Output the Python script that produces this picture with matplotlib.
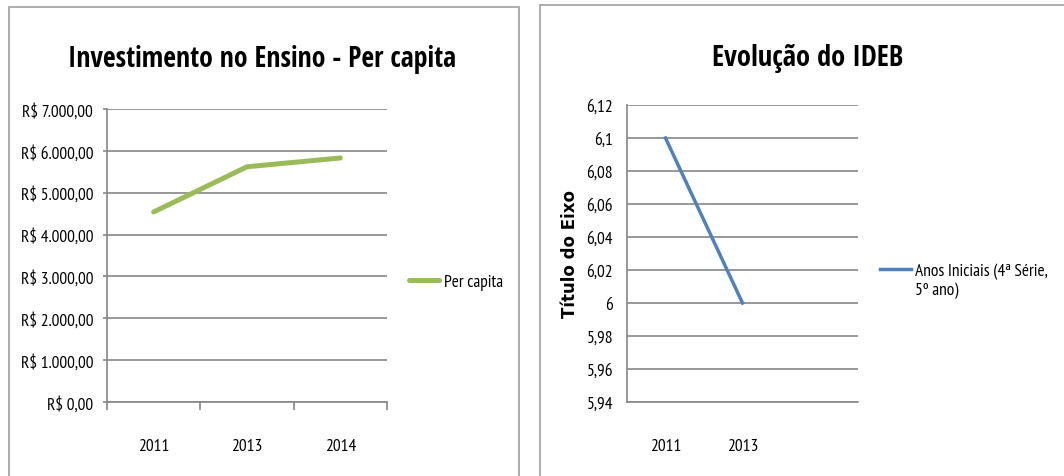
import matplotlib
matplotlib.use('Agg')
import matplotlib.pyplot as plt
from matplotlib.patches import Rectangle

plt.rcParams['font.family'] = ['PT Sans Narrow', 'Roboto Condensed', 'DejaVu Sans']
TITLE_FONT = ['Open Sans Condensed', 'Roboto Condensed', 'DejaVu Sans']

# dados
anos_invest = ['2011', '2013', '2014']
per_capita = [4540, 5620, 5830]
invest_ticks = [0, 1000, 2000, 3000, 4000, 5000, 6000, 7000]

anos_ideb = ['2011', '2013', '']
ideb_iniciais = [6.1, 6.0]
ideb_ticks = [5.94, 5.96, 5.98, 6.0, 6.02, 6.04, 6.06, 6.08, 6.1, 6.12]

W, H = 1064, 477
GRID = '#868686'
BORDER = '#a6a6a6'


def fx(px):
    return px / W


def fy(py):
    return 1 - py / H


def brl(v):
    s = f'{v:,.2f}'.replace(',', 'X').replace('.', ',').replace('X', '.')
    return 'R$ ' + s


def ptbr(v):
    s = f'{v:.2f}'.rstrip('0').rstrip('.')
    return s.replace('.', ',')


def style_axis(ax):
    for side in ['top', 'right']:
        ax.spines[side].set_visible(False)
    for side in ['left', 'bottom']:
        ax.spines[side].set_color(GRID)
        ax.spines[side].set_linewidth(1.2)
    ax.yaxis.grid(True, color=GRID, linewidth=1.2)
    ax.set_axisbelow(True)
    ax.tick_params(axis='y', length=3, width=1.2, color=GRID, labelsize=12.5, pad=7)


fig = plt.figure(figsize=(W / 100, H / 100), dpi=100)

# molduras dos dois graficos
fig.patches.append(Rectangle((fx(9), fy(480)), fx(510), 472 / H, transform=fig.transFigure,
                             fill=False, edgecolor=BORDER, linewidth=1.3))
fig.patches.append(Rectangle((fx(540), fy(480)), fx(540), 474 / H, transform=fig.transFigure,
                             fill=False, edgecolor=BORDER, linewidth=1.3))

# grafico 1 - investimento
ax1 = fig.add_axes([fx(107), fy(403), fx(387 - 107), (403 - 110) / H])
x1 = range(len(anos_invest))
ax1.plot(x1, per_capita, color='#9BBB59', linewidth=3.6, solid_capstyle='round', label='Per capita')
ax1.set_xlim(-0.5, len(anos_invest) - 0.5)
ax1.set_ylim(0, 7000)
ax1.set_yticks(invest_ticks)
ax1.set_yticklabels([brl(v) for v in invest_ticks])
ax1.set_xticks([i - 0.5 for i in range(len(anos_invest) + 1)])
ax1.set_xticklabels([])
ax1.set_xticks(list(x1), minor=True)
ax1.set_xticklabels(anos_invest, minor=True)
ax1.tick_params(axis='x', which='major', length=6, width=1.2, color=GRID, direction='out')
ax1.tick_params(axis='x', which='minor', length=0, labelsize=12.5, pad=26)
style_axis(ax1)
leg1 = ax1.legend(loc='center left', bbox_to_anchor=(fx(409), fy(283)), bbox_transform=fig.transFigure,
                  frameon=False, fontsize=12.5, handlelength=1.7, handletextpad=0.3,
                  borderaxespad=0, borderpad=0)
fig.text(fx(262), fy(67), 'Investimento no Ensino - Per capita', ha='center', va='baseline',
         fontsize=20, fontweight='bold', family=TITLE_FONT)

# grafico 2 - IDEB
ax2 = fig.add_axes([fx(627), fy(403), fx(858 - 627), (403 - 106) / H])
x2 = range(len(ideb_iniciais))
ax2.plot(x2, ideb_iniciais, color='#4F81BD', linewidth=2.5, label='Anos Iniciais (4ª Série,\n5º ano)')
ax2.set_xlim(-0.5, len(anos_ideb) - 0.5)
ax2.set_ylim(5.94, 6.12)
ax2.set_yticks(ideb_ticks)
ax2.set_yticklabels([ptbr(v) for v in ideb_ticks])
ax2.set_xticks(list(range(len(anos_ideb))))
ax2.set_xticklabels(anos_ideb)
ax2.tick_params(axis='x', length=0, labelsize=12.5, pad=26)
style_axis(ax2)
ax2.tick_params(axis='y', length=0, pad=10)
ax2.set_ylabel('Título do Eixo', fontsize=12, fontweight='bold', family='DejaVu Sans', labelpad=5)
leg2 = ax2.legend(loc='center left', bbox_to_anchor=(fx(880), fy(281)), bbox_transform=fig.transFigure,
                  frameon=False, fontsize=12.5, handlelength=1.8, handletextpad=0.2,
                  borderaxespad=0, borderpad=0)
# alinhar o traco da legenda com a primeira linha do texto
h2 = leg2.legend_handles[0]
h2.set_ydata([v + 8 for v in h2.get_ydata()])
fig.text(fx(808), fy(66), 'Evolução do IDEB', ha='center', va='baseline',
         fontsize=20.5, fontweight='bold', family=TITLE_FONT)

fig.savefig('out.png', dpi=100)
